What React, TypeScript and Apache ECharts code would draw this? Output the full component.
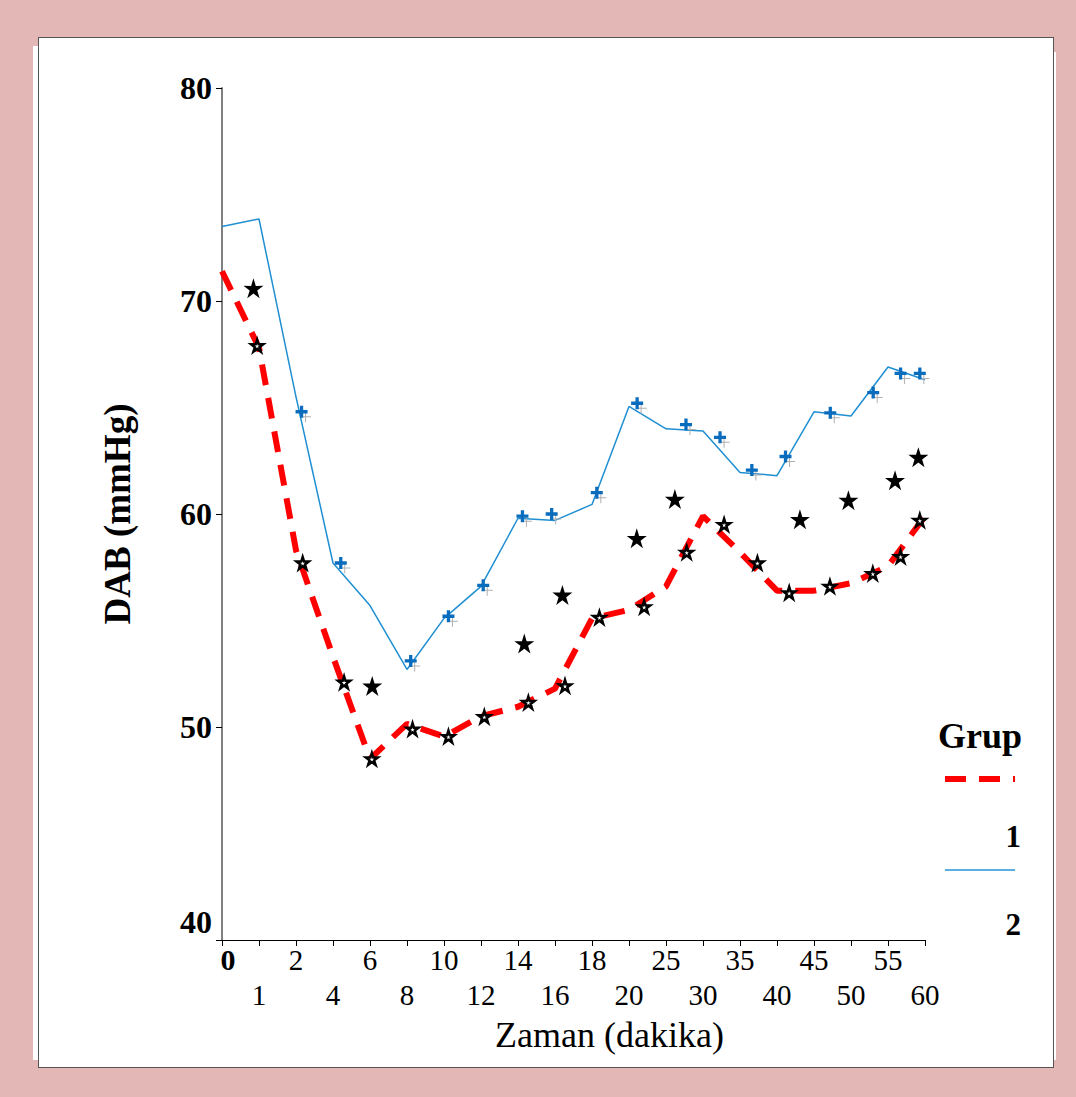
import React, { useEffect, useRef } from "react";
import * as echarts from "echarts";

// ---- data ----
const categories = ["0", "1", "2", "4", "6", "8", "10", "12", "14", "16", "18", "20", "25", "30", "35", "40", "45", "50", "55", "60"];
const group1Line = [71.4, 67.8, 58.3, 53.3, 48.5, 50.15, 49.55, 50.5, 50.95, 51.8, 55.1, 55.5, 56.6, 59.9, 58.2, 56.4, 56.4, 56.75, 57.55, 59.9];
const group2Line = [73.5, 73.85, 65.5, 57.7, 55.7, 52.7, 55.1, 56.6, 59.8, 59.7, 60.45, 65.05, 64.0, 63.9, 61.95, 61.8, 64.8, 64.6, 66.9, 66.3];

const plusX = [2.15, 3.21, 5.1, 6.12, 7.06, 8.12, 8.91, 10.13, 11.22, 12.54, 13.46, 14.32, 15.23, 16.44, 17.6, 18.34, 18.86];
const plusY = [64.8, 57.7, 53.1, 55.2, 56.65, 59.9, 60.0, 61.0, 65.2, 64.2, 63.6, 62.06, 62.7, 64.75, 65.7, 66.6, 66.6];
const openStarX = [0.95, 2.18, 3.3, 4.05, 5.15, 6.12, 7.09, 8.28, 9.27, 10.2, 11.41, 12.56, 13.57, 14.47, 15.33, 16.43, 17.59, 18.34, 18.86];
const openStarY = [67.9, 57.7, 52.1, 48.5, 49.9, 49.55, 50.48, 51.15, 51.93, 55.14, 55.64, 58.2, 59.5, 57.7, 56.3, 56.6, 57.2, 58.0, 59.7];
const filledStarX = [0.85, 4.06, 8.17, 9.2, 11.21, 12.24, 15.62, 16.93, 18.19, 18.82];
const filledStarY = [70.6, 51.93, 53.92, 56.2, 58.86, 60.7, 59.75, 60.65, 61.58, 62.67];

const yMin = 40;
const yMax = 80;
const yInterval = 10;
const legendTitle = "Grup";
const legendNames = ["1", "2"];
const xName = "Zaman (dakika)";
const yName = "DAB (mmHg)";

const FONT = "'Liberation Serif', 'Times New Roman', serif";
const STAR =
  "path://M10,0L12.23,6.93L19.51,6.91L13.61,11.17L15.88,18.09L10,13.8L4.12,18.09L6.39,11.17L0.49,6.91L7.77,6.93Z";
const PLUS = "path://M4,0h3v4h4v3h-4v4h-3v-4h-4v-3h4z";
const THIN_PLUS = "path://M5,0h1v5h5v1h-5v5h-1v-5h-5v-1h5z";

const zip = (xs: number[], ys: number[]) => xs.map((x, i) => [x, ys[i]]);

export default function App() {
  const ref = useRef<HTMLDivElement>(null);

  useEffect(() => {
    if (!ref.current) return;
    const chart = echarts.init(ref.current, null, { renderer: "svg" });
    chart.setOption({
      animation: false,
      backgroundColor: "transparent",
      textStyle: { fontFamily: FONT },
      grid: { left: 222, right: 151, top: 88, bottom: 157, containLabel: false },
      xAxis: [
        {
          type: "category",
          data: categories,
          boundaryGap: false,
          axisLine: { lineStyle: { color: "#000", width: 1 } },
          axisTick: { show: true, length: 6, lineStyle: { color: "#000" } },
          splitLine: { show: false },
          axisLabel: {
            interval: 0,
            margin: 2,
            color: "#000",
            fontFamily: FONT,
            fontSize: 29,
            lineHeight: 35,
            formatter: (v: string, i: number) => (i === 0 ? "{z|" + v + "}" : i % 2 === 1 ? "\n" + v : v),
            rich: {
              z: { fontWeight: "bold", fontSize: 30, lineHeight: 35, padding: [0, 0, 0, 12], fontFamily: FONT, color: "#000" },
            },
          },
          name: xName,
          nameLocation: "middle",
          nameGap: 70,
          nameTextStyle: { fontSize: 36, color: "#000", fontFamily: FONT, padding: [0, 0, 0, 72] },
        },
        { type: "value", min: 0, max: 19, show: false },
      ],
      yAxis: {
        type: "value",
        min: yMin,
        max: yMax,
        interval: yInterval,
        axisLine: { show: true, lineStyle: { color: "#808080", width: 2 } },
        axisTick: { show: true, length: 6, lineStyle: { color: "#000" } },
        splitLine: { show: false },
        axisLabel: {
          margin: 10,
          color: "#000",
          fontFamily: FONT,
          fontSize: 32,
          fontWeight: "bold",
          formatter: (v: number) => (v === yMin ? "{b|" + v + "}" : String(v)),
          rich: { b: { fontSize: 32, fontWeight: "bold", padding: [0, 0, 36, 0], fontFamily: FONT, color: "#000" } },
        },
        name: yName,
        nameLocation: "middle",
        nameGap: 86,
        nameTextStyle: { fontSize: 37, fontWeight: "bold", color: "#000", fontFamily: FONT },
      },
      graphic: [
        { type: "text", left: 938, top: 718, style: { text: legendTitle, font: "bold 36px " + FONT, fill: "#000" } },
        { type: "line", shape: { x1: 945, y1: 779, x2: 1015, y2: 779 }, style: { stroke: "#ff0000", lineWidth: 6, lineDash: [21, 13] } },
        { type: "text", x: 1021, y: 836, style: { text: legendNames[0], font: "bold 31px " + FONT, fill: "#000", align: "right", verticalAlign: "middle" } },
        { type: "line", shape: { x1: 945, y1: 870, x2: 1015, y2: 870 }, style: { stroke: "#5aaee0", lineWidth: 2 } },
        { type: "text", x: 1021, y: 924, style: { text: legendNames[1], font: "bold 31px " + FONT, fill: "#000", align: "right", verticalAlign: "middle" } },
      ],
      series: [
        {
          name: legendNames[1],
          type: "line",
          data: group2Line,
          symbol: "none",
          lineStyle: { color: "#1f8fd2", width: 1.5 },
          z: 2,
        },
        {
          name: legendNames[0],
          type: "line",
          data: group1Line,
          symbol: "none",
          lineStyle: { color: "#ff0000", width: 6, type: [21, 13], cap: "butt" },
          z: 3,
        },
        {
          type: "scatter",
          xAxisIndex: 1,
          data: zip(plusX, plusY),
          symbol: THIN_PLUS,
          symbolSize: 11,
          symbolOffset: [4, 5],
          itemStyle: { color: "#b0b0b0", opacity: 1 },
          z: 4,
        },
        {
          type: "scatter",
          xAxisIndex: 1,
          data: zip(plusX, plusY),
          symbol: PLUS,
          symbolSize: 12,
          itemStyle: { color: "#0a6cbd", opacity: 1 },
          z: 5,
        },
        {
          type: "scatter",
          xAxisIndex: 1,
          data: zip(openStarX, openStarY),
          symbol: STAR,
          symbolSize: 12,
          itemStyle: { color: "#ffffff", borderColor: "#000", borderWidth: 2.5, opacity: 1 },
          z: 5,
        },
        {
          type: "scatter",
          xAxisIndex: 1,
          data: zip(filledStarX, filledStarY),
          symbol: STAR,
          symbolSize: 20,
          itemStyle: { color: "#000", opacity: 1 },
          z: 5,
        },
      ],
    });
    return () => chart.dispose();
  }, []);

  return (
    <div style={{ position: "absolute", left: 0, top: 0, width: 1076, height: 1097, background: "#e4b7b7", overflow: "hidden" }}>
      <div style={{ position: "absolute", left: 33, top: 46, width: 5, height: 1014, background: "#ffffff" }} />
      <div style={{ position: "absolute", left: 1053, top: 52, width: 3, height: 1008, background: "#ffffff" }} />
      <div
        style={{
          position: "absolute",
          left: 38,
          top: 37,
          width: 1016,
          height: 1031,
          background: "#ffffff",
          border: "1.5px solid #555",
          boxSizing: "border-box",
        }}
      />
      <div ref={ref} style={{ position: "absolute", left: 0, top: 0, width: 1076, height: 1097 }} />
    </div>
  );
}
